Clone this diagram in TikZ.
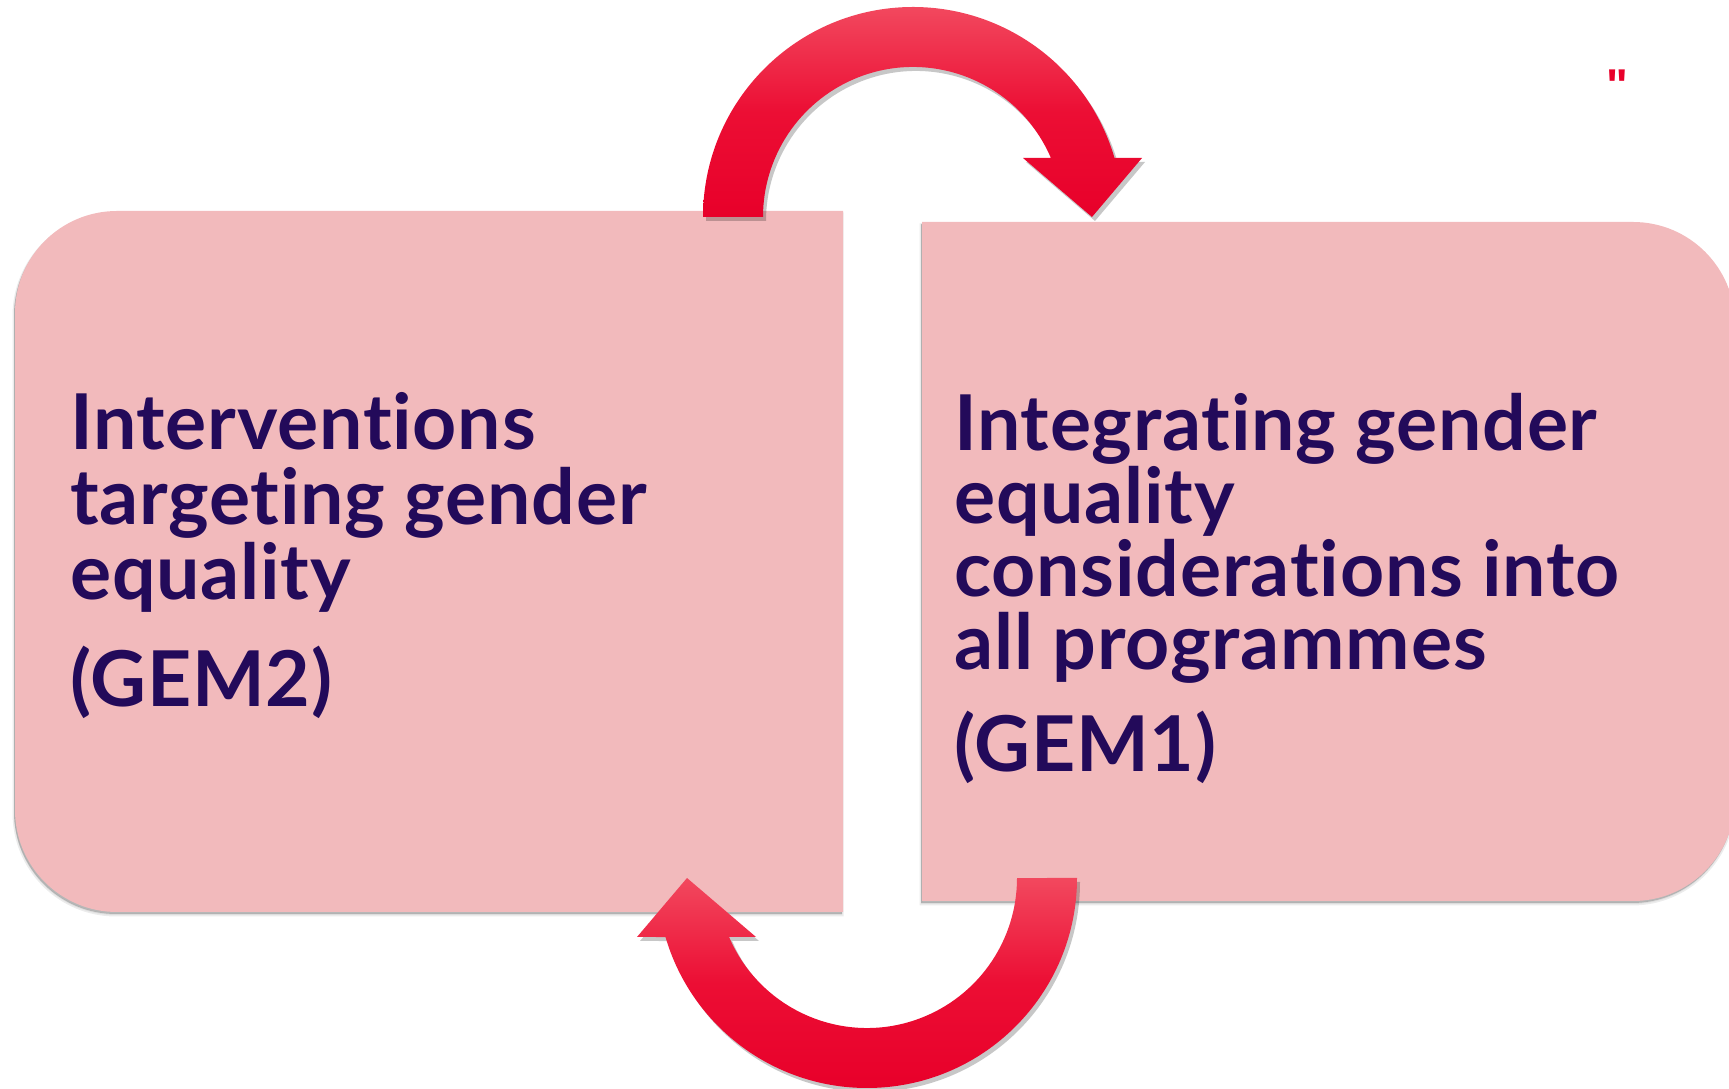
\documentclass[tikz,border=0pt]{standalone}
\usepackage{fontspec}
\setmainfont{Lato}[Ligatures={NoCommon},LetterSpace=1.0]
\newfontfamily\qfont{Liberation Sans}
\definecolor{boxpink}{RGB}{242,186,188}
\definecolor{txt}{RGB}{35,10,90}
\definecolor{redA}{RGB}{232,0,42}
\definecolor{redM}{RGB}{236,14,52}
\definecolor{redL}{RGB}{242,72,94}
\tikzset{
  lbl/.style={anchor=base west, inner sep=0pt, text=txt, font=\bfseries\fontsize{77}{77}\selectfont},
  boxfill/.style={fill=boxpink, draw=none},
  boxshadow/.style={fill=black!45, draw=none, opacity=0.55},
  boxshadowsoft/.style={fill=black!30, draw=black!30, line width=3pt, opacity=0.25},
  arrowfill/.style={top color=redL, bottom color=redA, middle color=redM, draw=none},
  arrowshadow/.style={fill=black, opacity=0.22, draw=none}
}
\begin{document}
\begin{tikzpicture}[x=1pt,y=1pt]
\useasboundingbox (0,0) rectangle (1729,1089);
\clip (0,0) rectangle (1729,1089);
% box outlines
\def\leftbox{(843,177) -- (843,878) -- (117,878) arc[start angle=90,end angle=180,radius=102] -- (15,279) arc[start angle=180,end angle=270,radius=102] -- cycle}
\def\rightbox{(922,188) -- (922,867) -- (1633,867) arc[start angle=90,end angle=0,radius=102] -- (1735,290) arc[start angle=0,end angle=-90,radius=102] -- cycle}
% shadows
\begin{scope}[shift={(-1,-3)}]
  \path[boxshadowsoft] \leftbox;
  \path[boxshadowsoft] \rightbox;
\end{scope}
\begin{scope}[shift={(-1,-2)}]
  \path[boxshadow] \leftbox;
  \path[boxshadow] \rightbox;
\end{scope}
% boxes
\path[boxfill] \leftbox;
\path[boxfill] \rightbox;
% arrows
\def\toparrow{(703,872) arc[start angle=180,end angle=16.32,radius=210] -- (1142,931) -- (1092,872) -- (1023,931) -- (1050.9,931) arc[start angle=23.16,end angle=180,radius=150] -- cycle}
\def\botarrow{(1077,211) arc[start angle=0,end angle=-163.68,radius=210] -- (637,152) -- (687,211) -- (756,152) -- (729.1,152) arc[start angle=-156.84,end angle=0,radius=150] -- cycle}
\begin{scope}[shift={(3,-4)}]
  \path[arrowshadow] \toparrow;
  \path[arrowshadow] \botarrow;
\end{scope}
\path[arrowfill] \toparrow;
\path[arrowfill] \botarrow;
% texts
\node[lbl] (l1) at (70,639) {Interventions};
\node[lbl] (l2) at (70,564) {targeting gender};
\node[lbl] (l3) at (70,489) {equality};
\node[lbl] (l4) at (70,382) {(GEM2)};
\node[lbl] (r1) at (954,638) {Integrating gender};
\node[lbl] (r2) at (954,565) {equality};
\node[lbl] (r3) at (954,492) {considerations into};
\node[lbl] (r4) at (954,419) {all programmes};
\node[lbl] (r5) at (954,317) {(GEM1)};
\node[anchor=center, inner sep=0pt, text=redA, font=\qfont\bfseries\fontsize{46}{46}\selectfont] (q) at (1617,1003) {"};
\end{tikzpicture}
\end{document}
